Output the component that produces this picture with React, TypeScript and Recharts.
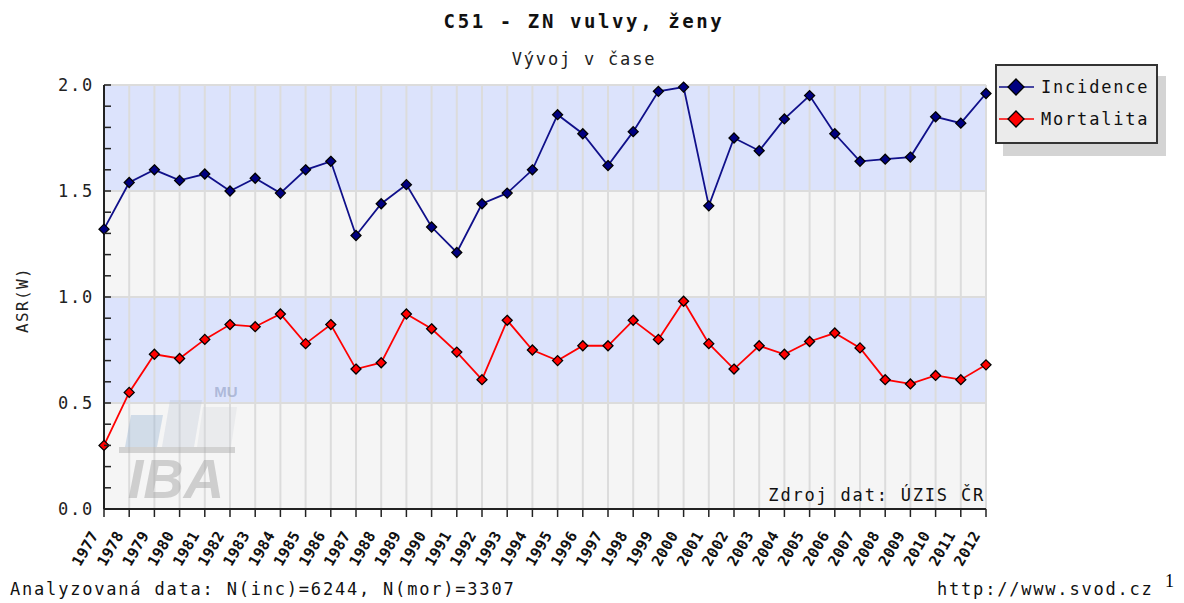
import React from 'react';
import { LineChart, Line, XAxis, YAxis, CartesianGrid } from 'recharts';

const years = ['1977','1978','1979','1980','1981','1982','1983','1984','1985','1986','1987','1988','1989','1990','1991','1992','1993','1994','1995','1996','1997','1998','1999','2000','2001','2002','2003','2004','2005','2006','2007','2008','2009','2010','2011','2012'];
const incidence = [1.32,1.54,1.60,1.55,1.58,1.50,1.56,1.49,1.60,1.64,1.29,1.44,1.53,1.33,1.21,1.44,1.49,1.60,1.86,1.77,1.62,1.78,1.97,1.99,1.43,1.75,1.69,1.84,1.95,1.77,1.64,1.65,1.66,1.85,1.82,1.96];
const mortality = [0.30,0.55,0.73,0.71,0.80,0.87,0.86,0.92,0.78,0.87,0.66,0.69,0.92,0.85,0.74,0.61,0.89,0.75,0.70,0.77,0.77,0.89,0.80,0.98,0.78,0.66,0.77,0.73,0.79,0.83,0.76,0.61,0.59,0.63,0.61,0.68];
const yTicks = [0,0.1,0.2,0.3,0.4,0.5,0.6,0.7,0.8,0.9,1.0,1.1,1.2,1.3,1.4,1.5,1.6,1.7,1.8,1.9,2.0];
const bandFills = ['#dce3fc', '#f5f5f5'];
const gridValues = [0, 0.5, 1.0, 1.5, 2.0];

const title = 'C51 - ZN vulvy, ženy';
const subtitle = 'Vývoj v čase';
const yLabel = 'ASR(W)';
const sourceText = 'Zdroj dat: ÚZIS ČR';
const footLeft = 'Analyzovaná data: N(inc)=6244, N(mor)=3307';
const footRight = 'http://www.svod.cz';
const seriesNames = ['Incidence', 'Mortalita'];
const seriesColors = ['#10108a', '#ff0000'];
const markerFills = ['#000080', '#ff0000'];

const data = years.map((y, i) => ({ year: y, inc: incidence[i], mor: mortality[i] }));

const MONO = '"DejaVu Sans Mono", monospace';
const FS = 17;
const LS = 1.8;

const YTick = (props: any) => {
  const { x, y, payload } = props;
  const v = payload.value as number;
  const major = Math.abs(v * 2 - Math.round(v * 2)) < 1e-6;
  return (
    <g>
      <line x1={x} x2={x + 7} y1={y} y2={y} stroke="#222" strokeWidth={1.5} />
      {major && (
        <text x={x - 10} y={y} dy={6} textAnchor="end" fontFamily={MONO} fontSize={FS} letterSpacing={LS} fill="#222">
          {v.toFixed(1)}
        </text>
      )}
    </g>
  );
};

const XTick = (props: any) => {
  const { x, y, payload } = props;
  return (
    <text transform={`translate(${x - 5},${y + 16}) rotate(-60)`} textAnchor="end" fontFamily={MONO} fontSize={15} fontWeight="bold" letterSpacing={0.3} fill="#111">
      {payload.value}
    </text>
  );
};

const makeDiamond = (fill: string) => (props: any) => {
  const { cx, cy, index } = props;
  if (cx == null || cy == null) return <g key={index} />;
  const s = 5;
  return (
    <polygon key={index} points={`${cx},${cy - s} ${cx + s},${cy} ${cx},${cy + s} ${cx - s},${cy}`} fill={fill} stroke="#000" strokeWidth={1.3} />
  );
};

export default function App() {
  return (
    <div style={{ position: 'absolute', left: 0, top: 0, width: 1184, height: 603, background: '#fff' }}>
      <LineChart width={1184} height={603} data={data} margin={{ top: 85, right: 198, left: 0, bottom: 34 }}>
        <CartesianGrid stroke="#dcdcdc" strokeWidth={2} horizontalValues={gridValues} horizontalFill={bandFills} fillOpacity={1} />
        <XAxis dataKey="year" height={60} interval={0} tick={<XTick />} tickSize={8} tickMargin={2} stroke="#222" tickLine={{ stroke: '#222', strokeWidth: 1.5 }} axisLine={{ stroke: '#222', strokeWidth: 2 }} />
        <YAxis width={104} domain={[0, 2]} ticks={yTicks} interval={0} tick={<YTick />} tickSize={0} tickMargin={0} tickLine={false} axisLine={{ stroke: '#222', strokeWidth: 2 }} />
        <Line dataKey="inc" name={seriesNames[0]} stroke={seriesColors[0]} strokeWidth={1.8} isAnimationActive={false} dot={makeDiamond(markerFills[0])} activeDot={false} />
        <Line dataKey="mor" name={seriesNames[1]} stroke={seriesColors[1]} strokeWidth={1.8} isAnimationActive={false} dot={makeDiamond(markerFills[1])} activeDot={false} />
      </LineChart>
      <svg width={1184} height={603} style={{ position: 'absolute', left: 0, top: 0, pointerEvents: 'none' }}>
        {/* watermark */}
        <g>
          <polygon points="131,415 163,415 157,447 125,447" fill="#8fb0d0" fillOpacity={0.35} />
          <polygon points="170,400 202,400 194,447 162,447" fill="#b8c4d4" fillOpacity={0.3} />
          <polygon points="203,407 237,407 231,447 197,447" fill="#cfd4dc" fillOpacity={0.3} />
          <rect x={119} y={447} width={116} height={6} fill="#a8a8a8" fillOpacity={0.45} />
          <text x={176} y={498} textAnchor="middle" fontFamily="'Liberation Sans', Arial, sans-serif" fontWeight="bold" fontStyle="italic" fontSize={56} fill="#a0a0a0" fillOpacity={0.45}>IBA</text>
          <text x={226} y={397} textAnchor="middle" fontFamily="'Liberation Sans', Arial, sans-serif" fontWeight="bold" fontSize={15} fill="#8090b8" fillOpacity={0.5}>MU</text>
        </g>
        <text x={584} y={28} textAnchor="middle" fontFamily={MONO} fontWeight="bold" fontSize={19} letterSpacing={2.6} fill="#111">{title}</text>
        <text x={584} y={65} textAnchor="middle" fontFamily={MONO} fontSize={FS} letterSpacing={LS} fill="#222">{subtitle}</text>
        <text transform="translate(28,300) rotate(-90)" textAnchor="middle" fontFamily={MONO} fontSize={16} letterSpacing={1.4} fill="#222">{yLabel}</text>
        <text x={985} y={501} textAnchor="end" fontFamily={MONO} fontSize={FS} letterSpacing={LS} fill="#111">{sourceText}</text>
        <text x={10} y={595} fontFamily={MONO} fontSize={FS} letterSpacing={LS} fill="#111">{footLeft}</text>
        <text x={937} y={595} fontFamily={MONO} fontSize={FS} letterSpacing={LS} fill="#111">{footRight}</text>
        <text x={1165} y={587} fontFamily="'Liberation Serif', serif" fontSize={18} fill="#000">1</text>
      </svg>
      <div style={{ position: 'absolute', left: 995, top: 64, width: 159, height: 76, background: '#ebebeb', border: '2px solid #333', boxShadow: '8px 12px 0 0 #d4d4d4' }}>
        <svg width={159} height={76} style={{ position: 'absolute', left: 0, top: 0 }}>
          {seriesNames.map((n, i) => {
            const cy = 21 + i * 32;
            return (
              <g key={n}>
                <line x1={2} x2={37} y1={cy} y2={cy} stroke={seriesColors[i]} strokeWidth={1.6} />
                <polygon points={`19,${cy - 8} 27,${cy} 19,${cy + 8} 11,${cy}`} fill={markerFills[i]} stroke="#000" strokeWidth={1.3} />
                <text x={44} y={cy + 6} fontFamily={MONO} fontSize={FS} letterSpacing={LS} fill="#111">{n}</text>
              </g>
            );
          })}
        </svg>
      </div>
    </div>
  );
}
